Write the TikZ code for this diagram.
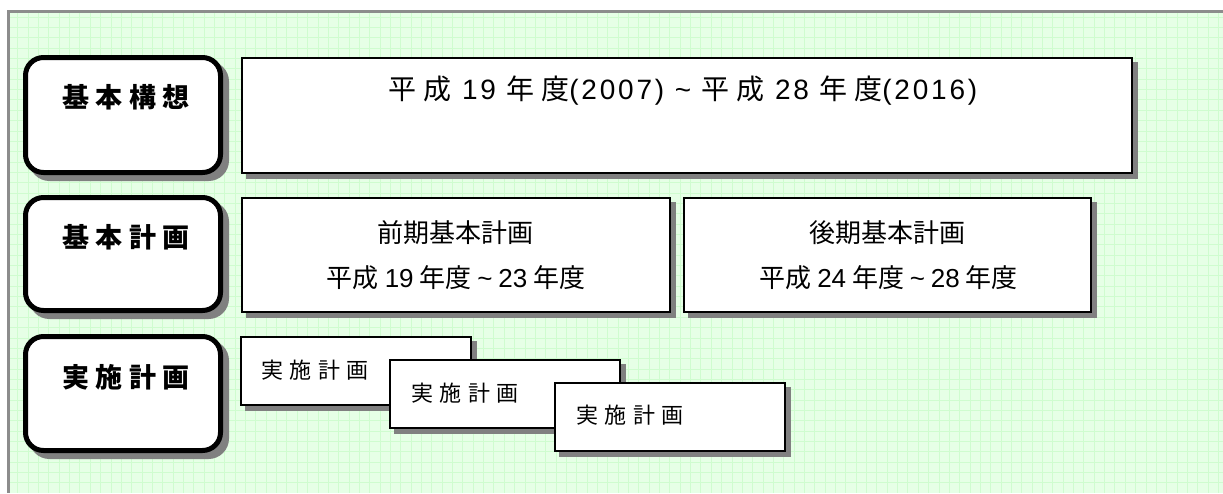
\documentclass[tikz,border=0pt]{standalone}
\usepackage{fontspec}
\usetikzlibrary{shadows}
\setmainfont{Noto Sans CJK JP}
\newfontfamily\ar{Liberation Sans}
\newfontfamily\jpsp[LetterSpace=24]{Noto Sans CJK JP}
\newfontfamily\arsp[LetterSpace=10]{Liberation Sans}
\newfontfamily\jplbl[LetterSpace=24]{Noto Sans CJK JP}
\newfontfamily\jpsm[LetterSpace=30]{Noto Sans CJK JP}
\definecolor{bgcol}{HTML}{E6FFE6}
\definecolor{gridcol}{HTML}{CFFCCF}
\definecolor{shadowgray}{HTML}{808080}
\definecolor{framegray}{HTML}{8C8C8C}
\begin{document}
\begin{tikzpicture}[x=1pt,y=-1pt,
  every node/.style={inner sep=0pt, outer sep=0pt},
  lblbox/.style={draw=black, line width=5pt, rounded corners=18pt, fill=white,
    general shadow={fill=shadowgray, draw=shadowgray, line width=5pt, shadow xshift=6pt, shadow yshift=-6pt}},
  planbox/.style={draw=black, line width=2pt, fill=white,
    general shadow={fill=shadowgray, draw=shadowgray, line width=2pt, shadow xshift=5pt, shadow yshift=-5pt}},
  lbltext/.style={font=\fontsize{27}{30}\selectfont\jplbl\bfseries, anchor=center},
  plantext/.style={font=\fontsize{26}{30}\selectfont, anchor=center},
  toptext/.style={font=\fontsize{28}{30}\selectfont, anchor=center},
  smtext/.style={font=\fontsize{22}{25}\selectfont\jpsm, anchor=west}]
\useasboundingbox (0,0) rectangle (1223,493);
% background and grid
\fill[white] (0,0) rectangle (1223,493);
\fill[bgcol] (10,13) rectangle (1223,493);
\foreach \i in {1,...,118} \draw[gridcol, line width=0.8pt] ({7.4+10.35*\i},13) -- ({7.4+10.35*\i},493);
\foreach \j in {1,...,46} \draw[gridcol, line width=0.8pt] (10,{6.7+10.35*\j}) -- (1223,{6.7+10.35*\j});
\fill[framegray] (7,10) rectangle (1223,13);
\fill[framegray] (7,10) rectangle (10,493);

% left labels
\node[lblbox, minimum width=195pt, minimum height=115pt] (kousou) at (123,115) {};
\node[lblbox, minimum width=195pt, minimum height=113pt] (keikaku) at (123,254) {};
\node[lblbox, minimum width=195pt, minimum height=114pt] (jisshi) at (123,393.5) {};
\node[lbltext] (kousoutxt) at (126,97) {基本構想};
\node[lbltext] (keikakutxt) at (126,237) {基本計画};
\node[lbltext] (jisshitxt) at (126,377) {実施計画};

% top box
\node[planbox, minimum width=890pt, minimum height=115pt] (period) at (687,115.5) {};
\node[toptext] (periodtxt) at (683,91) {{\jpsp 平成}{\arsp{} 19 }{\jpsp 年度}{\arsp(2007) \textasciitilde{} }{\jpsp 平成}{\arsp{} 28 }{\jpsp 年度}{\arsp(2016)}};

% row 2
\node[planbox, minimum width=428pt, minimum height=114pt] (zenki) at (456,255) {};
\node[planbox, minimum width=407pt, minimum height=114pt] (kouki) at (887.5,255) {};
\node[plantext] (zenki1) at (455,233) {前期基本計画};
\node[plantext] (zenki2) at (456,278) {平成 {\ar 19} 年度 {\ar\textasciitilde{}} {\ar 23} 年度};
\node[plantext] (kouki1) at (887.5,233) {後期基本計画};
\node[plantext] (kouki2) at (888.5,278) {平成 {\ar 24} 年度 {\ar\textasciitilde{}} {\ar 28} 年度};

% row 3
\node[planbox, minimum width=230pt, minimum height=68pt] (jA) at (356,371) {};
\node[smtext] (jAtxt) at (261,370) {実施計画};
\node[planbox, minimum width=230pt, minimum height=68pt] (jB) at (505,394) {};
\node[smtext] (jBtxt) at (411,393) {実施計画};
\node[planbox, minimum width=230pt, minimum height=68pt] (jC) at (670,417) {};
\node[smtext] (jCtxt) at (576,415) {実施計画};
\end{tikzpicture}
\end{document}
